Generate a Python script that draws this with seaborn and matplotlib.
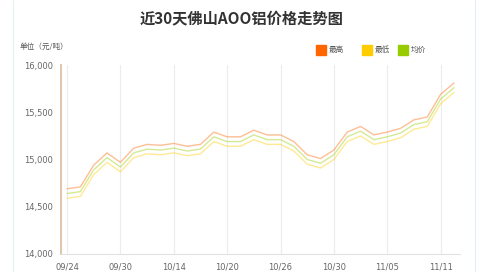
import matplotlib
matplotlib.use("Agg")
import matplotlib.pyplot as plt
import seaborn as sns
import pandas as pd
from matplotlib.lines import Line2D
from matplotlib.patches import Rectangle

dates = ["09/24", "09/25", "09/26", "09/27", "09/30", "10/08", "10/09", "10/10",
         "10/14", "10/15", "10/16", "10/17", "10/20", "10/21", "10/22", "10/23",
         "10/26", "10/27", "10/28", "10/29", "10/30", "10/31", "11/01", "11/04",
         "11/05", "11/06", "11/07", "11/08", "11/11", "11/12"]
high = [14690, 14710, 14940, 15070, 14970, 15120, 15160, 15150, 15170, 15140,
        15160, 15290, 15240, 15240, 15310, 15260, 15260, 15190, 15050, 15010,
        15100, 15290, 15350, 15260, 15290, 15330, 15420, 15450, 15690, 15810]
low = [14590, 14610, 14840, 14970, 14870, 15020, 15060, 15050, 15070, 15040,
       15060, 15190, 15140, 15140, 15210, 15160, 15160, 15090, 14950, 14910,
       15000, 15190, 15250, 15160, 15190, 15230, 15320, 15350, 15590, 15710]
avg = [14640, 14660, 14890, 15020, 14920, 15070, 15110, 15100, 15120, 15090,
       15110, 15240, 15190, 15190, 15260, 15210, 15210, 15140, 15000, 14960,
       15050, 15240, 15300, 15210, 15240, 15280, 15370, 15400, 15640, 15760]
series_names = ["最高", "最低", "均价"]
series_colors = ["#ff6600", "#ffcc00", "#99cc00"]
tick_idx = [0, 4, 8, 12, 16, 20, 24, 28]
yticks = [14000, 14500, 15000, 15500, 16000]

sns.set_style("white")
plt.rcParams["font.family"] = ["Noto Sans CJK SC", "DejaVu Sans"]

rows = []
for name, vals in zip(series_names, [high, low, avg]):
    for i, (d, v) in enumerate(zip(dates, vals)):
        rows.append({"idx": i, "date": d, "series": name, "value": v})
df = pd.DataFrame(rows)

fig = plt.figure(figsize=(4.83, 2.72), dpi=100)
ax = fig.add_axes([61/483, 18/272, (460-61)/483, (254-65)/272])

sns.lineplot(data=df, x="idx", y="value", hue="series",
             hue_order=series_names, palette=series_colors,
             ax=ax, legend=False, linewidth=1.0, alpha=0.42)

ax.set_xlim(-0.45, 29.45)
ax.set_ylim(14000, 16000)
ax.set_xticks(tick_idx)
ax.set_xticklabels([dates[i] for i in tick_idx], fontsize=6, color="#666666",
                   family="DejaVu Sans")
ax.set_yticks(yticks)
ax.set_yticklabels([f"{v:,}" for v in yticks], fontsize=6, color="#666666",
                   family="DejaVu Sans")
ax.set_xlabel("")
ax.set_ylabel("")
ax.tick_params(axis="x", length=0, pad=6)
ax.tick_params(axis="y", length=3, width=0.8, color="#c8b4a0", pad=3)
ax.grid(axis="x", color="#ececec", linewidth=0.8)
ax.grid(axis="y", visible=False)
for s in ["top", "right"]:
    ax.spines[s].set_visible(False)
ax.spines["left"].set_color("#dcc0a4")
ax.spines["left"].set_linewidth(1.3)
ax.spines["bottom"].set_color("#e2e2e2")
ax.spines["bottom"].set_linewidth(0.8)

# frame lines
fig.add_artist(Line2D([13/483, 13/483], [0, 1], color="#e6edf4", linewidth=0.8))
fig.add_artist(Line2D([475/483, 475/483], [0, 1], color="#e6edf4", linewidth=0.8))

fig.text(0.5, 1 - 18/272, "近30天佛山AOO铝价格走势图", ha="center", va="center",
         fontsize=11, fontweight="bold", color="#333333")
fig.text(20/483, 1 - 47/272, "单位（元/吨）", ha="left", va="center",
         fontsize=5.5, color="#555555")

leg_x = [316, 362, 398]
for x, name, c in zip(leg_x, series_names, series_colors):
    fig.add_artist(Rectangle((x/483, 1 - 55/272), 10/483, 10/272,
                             transform=fig.transFigure, color=c))
    fig.text((x + 13)/483, 1 - 50/272, name, ha="left", va="center",
             fontsize=5.5, color="#555555")

fig.savefig("out.png", dpi=100)
